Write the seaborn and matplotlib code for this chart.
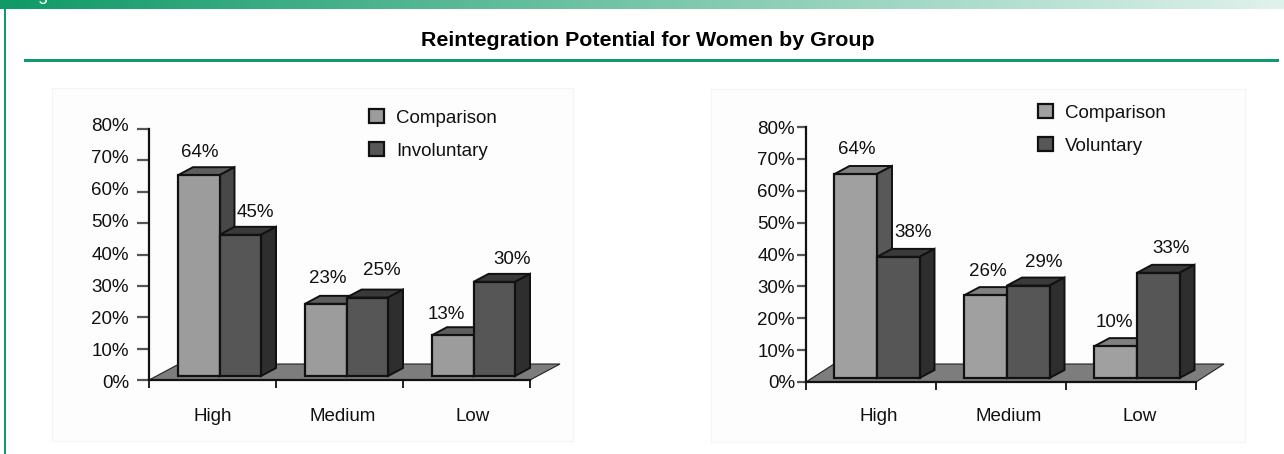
import numpy as np
import pandas as pd
import seaborn as sns
import matplotlib.pyplot as plt
from matplotlib.patches import Polygon, Rectangle
from matplotlib.transforms import Affine2D, IdentityTransform

sns.set_theme(style="white")
plt.rcParams['font.family'] = ['Liberation Sans', 'DejaVu Sans']

# values
levels = ['High', 'Medium', 'Low']
comparison_left = [64, 23, 13]
involuntary = [45, 25, 30]
comparison_right = [64, 26, 10]
voluntary = [38, 29, 33]
pct_ticks = [0, 10, 20, 30, 40, 50, 60, 70, 80]
main_title = 'Reintegration Potential for Women by Group'

W, H = 1284, 454
fig = plt.figure(figsize=(W / 100, H / 100), dpi=100, facecolor='white')

# colours: front, top, side
light_left = ('#9c9c9c', '#5e5e5e', '#484848')
light_right = ('#a0a0a0', '#808080', '#585858')
dark = ('#565656', '#3a3a3a', '#2e2e2e')
FS = 13.5


def px_axes(x0, x1, ytop, ybot):
    return fig.add_axes([x0 / W, (H - ybot) / H, (x1 - x0) / W, (ybot - ytop) / H])


def draw_panel(box, rect, second, vals_a, vals_b, light, shift, floor_d, bar_d, nudges,
               leg_xy, tick_len, tick_pad, label_drift, xlab_shift, xlab_pad):
    # faint panel behind the pasted chart
    fig.add_artist(Rectangle((box[0] / W, 1 - box[3] / H), (box[1] - box[0]) / W, (box[3] - box[2]) / H,
                             transform=fig.transFigure, fc='#fdfdfd', ec='#f4f4f4', lw=0.8, zorder=-1))
    ax = px_axes(*rect)
    ax.patch.set_alpha(0)
    df = pd.DataFrame({'level': levels * 2,
                       'pct': vals_a + vals_b,
                       'group': ['Comparison'] * 3 + [second] * 3})
    sns.barplot(data=df, x='level', y='pct', hue='group', ax=ax, width=0.654, gap=0,
                palette=[light[0], dark[0]], saturation=1, edgecolor='#111111', linewidth=1.6,
                errorbar=None)
    ax.set_xlim(-0.5, 2.5)
    ax.set_ylim(0, 80)
    ax.set_xlabel('')
    ax.set_ylabel('')

    sns.despine(ax=ax, top=True, right=True)
    for s in ['left', 'bottom']:
        ax.spines[s].set_color('#111111')
        ax.spines[s].set_linewidth(1.6)

    ax.set_yticks(pct_ticks)
    ax.set_yticklabels([str(t) + '%' for t in pct_ticks], fontsize=FS, color='#111111')
    ax.tick_params(axis='y', left=True, length=tick_len, width=1.6, color='#555555', pad=tick_pad)
    ax.set_xticks([0, 1, 2])
    ax.set_xticklabels(levels, fontsize=FS, color='#111111')
    ax.set_xticks([-0.5, 0.5, 1.5, 2.5], minor=True)
    ax.tick_params(axis='x', which='major', bottom=False, length=0, pad=xlab_pad)
    ax.tick_params(axis='x', which='minor', bottom=True, length=6, width=1.4, color='#222222')
    for i, lab in enumerate(ax.get_yticklabels()):
        lab.set_transform(lab.get_transform() + Affine2D().translate(0, label_drift[0] + label_drift[1] * i / 8))
    for lab, sx in zip(ax.get_xticklabels(), xlab_shift):
        lab.set_transform(lab.get_transform() + Affine2D().translate(sx, 0))

    # floor parallelogram behind the bars
    bw, bh = rect[1] - rect[0], rect[3] - rect[2]
    fx, fy = floor_d[0] / bw, floor_d[1] / bh
    ax.add_patch(Polygon([(0, 0), (1, 0), (1 + fx, fy), (fx, fy)], closed=True, transform=ax.transAxes,
                         fc='#7d7d7d', ec='#222222', lw=0.8, clip_on=False, zorder=1))

    # bars get pushed onto the floor, then extruded
    off = Affine2D().translate(shift[0], shift[1])
    k = 0
    for c, colors, z in zip(ax.containers, [light, dark], [3, 5]):
        for bar in c:
            bar.set_transform(ax.transData + off)
            bar.set_zorder(z + 1)
            bar.set_clip_on(False)
            x0, top = ax.transData.transform((bar.get_x(), bar.get_height()))
            x1, bot = ax.transData.transform((bar.get_x() + bar.get_width(), 0))
            x0, x1 = x0 + shift[0], x1 + shift[0]
            top, bot = top + shift[1], bot + shift[1]
            d = (bar_d[0], bar_d[1])
            top_face = [(x0, top), (x1, top), (x1 + d[0], top + d[1]), (x0 + d[0], top + d[1])]
            side_face = [(x1, top), (x1 + d[0], top + d[1]), (x1 + d[0], bot + d[1]), (x1, bot)]
            ax.add_patch(Polygon(top_face, closed=True, transform=IdentityTransform(), fc=colors[1],
                                 ec='#111111', lw=1.4, clip_on=False, zorder=z))
            ax.add_patch(Polygon(side_face, closed=True, transform=IdentityTransform(), fc=colors[2],
                                 ec='#111111', lw=1.4, clip_on=False, zorder=z))
            nx, ny = nudges[k]
            k += 1
            ax.annotate(f'{bar.get_height():.0f}%', xy=((x0 + x1) / 2, top), xycoords=IdentityTransform(),
                        xytext=(nx * 0.72, ny * 0.72), textcoords='offset points', ha='center', va='center',
                        fontsize=FS, color='#111111', zorder=10, annotation_clip=False)

    sns.move_legend(ax, 'upper left', bbox_to_anchor=(leg_xy[0] / W, 1 - leg_xy[1] / H),
                    bbox_transform=fig.transFigure, frameon=False, title=None, fontsize=FS,
                    handlelength=0.8, handleheight=0.8, handletextpad=0.65, labelspacing=0.82,
                    borderpad=0, borderaxespad=0, labelcolor='#111111')
    return ax


draw_panel((52, 573, 88, 441), (149, 530, 129, 380), 'Involuntary', comparison_left, involuntary, light_left,
           (7, 4), (30, 16), (15, 8),
           [(1, 23), (2, 25), (-6, 21), (15, 22), (15, 27), (18, 22)],
           (369, 109), 8.6, 5.8, (-2, 7), (0, 3, 6), 20)
draw_panel((711, 1245, 89, 442), (806, 1196, 127, 382), 'Voluntary', comparison_right, voluntary, light_right,
           (6, 4), (28, 18), (15, 8),
           [(1, 24), (2, 24), (-1, 24), (15, 24), (15, 23), (13, 24)],
           (1038, 104), 6.5, 1.5, (0, 0), (7.5, 8, 9), 18.5)

# green header strip fading to white, side rule and title rule
band = fig.add_axes([0, 1 - 9 / H, 1, 9 / H])
band.axis('off')
band.imshow(np.linspace(0, 1, 256).reshape(1, -1), aspect='auto', extent=(0, 1, 0, 1),
            cmap=sns.blend_palette(['#0f9a68', '#ffffff'], as_cmap=True), vmin=0, vmax=1.15)
fig.add_artist(Rectangle((4 / W, 0), 1.5 / W, 1, transform=fig.transFigure, fc='#0f9a68', ec='none'))
fig.add_artist(Rectangle((24 / W, 1 - 62 / H), 1255 / W, 3 / H, transform=fig.transFigure, fc='#0f9a68', ec='none'))
fig.text(24 / W, 1 - 0.5 / H, 'Figure', fontsize=13, color='white', family=['Liberation Sans'], va='baseline')
fig.text(648 / W, 1 - 41 / H, main_title, fontsize=15.4, fontweight='bold', color='black',
         family=['Liberation Sans'], ha='center', va='center')

plt.savefig('out.png', dpi=100)
